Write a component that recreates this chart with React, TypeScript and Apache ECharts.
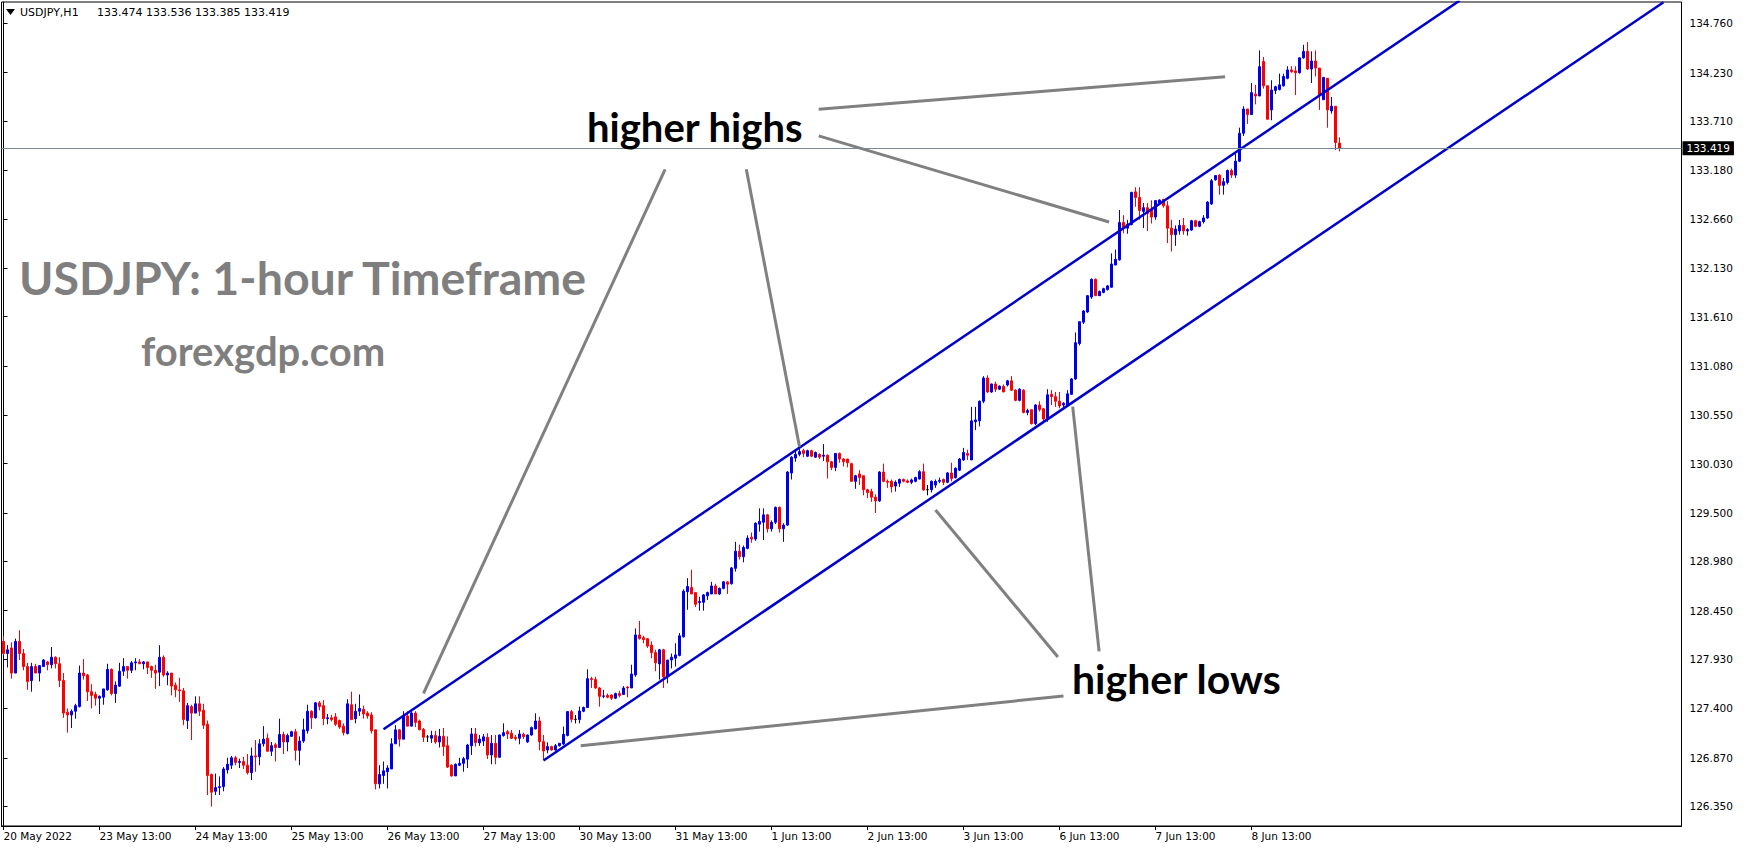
import React, { useEffect, useRef } from 'react';
import * as echarts from 'echarts';

// Hourly USDJPY candles, one array per trading day, each bar as [open, close, low, high]
const may20 = [
  [128.12, 127.99, 127.97, 128.18], [127.99, 128.03, 127.84, 128.08], [128.05, 127.78, 127.72, 128.11],
  [127.78, 128.12, 127.78, 128.15], [128.12, 127.99, 127.92, 128.24], [127.99, 127.85, 127.81, 128.04],
  [127.85, 127.69, 127.6, 127.89], [127.7, 127.85, 127.58, 127.89], [127.85, 127.78, 127.78, 127.88],
  [127.78, 127.86, 127.69, 127.86], [127.85, 127.92, 127.85, 127.93],
];
const may23 = [
  [127.9, 127.87, 127.81, 127.91], [127.87, 127.95, 127.83, 128.06], [127.95, 127.88, 127.83, 127.96],
  [127.88, 127.7, 127.63, 127.95], [127.7, 127.35, 127.3, 127.78], [127.36, 127.33, 127.14, 127.4],
  [127.33, 127.37, 127.19, 127.39], [127.37, 127.43, 127.29, 127.45], [127.42, 127.78, 127.41, 127.86],
  [127.78, 127.75, 127.71, 127.93], [127.76, 127.58, 127.48, 127.77], [127.58, 127.54, 127.4, 127.66],
  [127.55, 127.51, 127.43, 127.58], [127.51, 127.53, 127.34, 127.54], [127.52, 127.61, 127.44, 127.61],
  [127.6, 127.82, 127.59, 127.88], [127.82, 127.56, 127.54, 127.83], [127.56, 127.65, 127.46, 127.69],
  [127.64, 127.8, 127.63, 127.89], [127.8, 127.85, 127.75, 127.94], [127.85, 127.81, 127.72, 127.85],
  [127.81, 127.89, 127.78, 127.91], [127.89, 127.9, 127.81, 127.94], [127.9, 127.88, 127.88, 127.93],
];
const may24 = [
  [127.88, 127.9, 127.82, 127.91], [127.9, 127.84, 127.77, 127.9], [127.85, 127.81, 127.73, 127.86],
  [127.81, 127.78, 127.61, 127.87], [127.79, 127.95, 127.64, 128.08], [127.95, 127.76, 127.74, 127.97],
  [127.76, 127.78, 127.65, 127.8], [127.78, 127.64, 127.54, 127.78], [127.65, 127.6, 127.52, 127.68],
  [127.6, 127.59, 127.47, 127.73], [127.59, 127.28, 127.22, 127.62], [127.27, 127.43, 127.18, 127.46],
  [127.42, 127.35, 127.06, 127.44], [127.35, 127.45, 127.35, 127.53], [127.45, 127.37, 127.32, 127.53],
  [127.38, 127.22, 127.18, 127.45], [127.23, 126.68, 126.47, 127.27], [126.69, 126.5, 126.345, 126.7],
  [126.51, 126.55, 126.47, 126.7], [126.55, 126.56, 126.47, 126.67], [126.56, 126.75, 126.51, 126.77],
  [126.74, 126.8, 126.7, 126.87], [126.79, 126.87, 126.75, 126.89], [126.87, 126.82, 126.79, 126.89],
];
const may25 = [
  [126.82, 126.83, 126.76, 126.86], [126.83, 126.79, 126.75, 126.88], [126.79, 126.71, 126.69, 126.91],
  [126.71, 126.89, 126.63, 126.98], [126.89, 126.88, 126.72, 127.06], [126.88, 127.02, 126.79, 127.07],
  [127.02, 127.07, 126.99, 127.21], [127.08, 126.94, 126.94, 127.13], [126.94, 127.0, 126.89, 127.04],
  [127.01, 126.98, 126.83, 127.03], [126.98, 127.12, 126.98, 127.29], [127.12, 127.04, 126.91, 127.15],
  [127.04, 127.11, 126.94, 127.13], [127.1, 127.15, 127.1, 127.16], [127.15, 126.95, 126.84, 127.18],
  [126.95, 127.05, 126.79, 127.1], [127.05, 127.17, 127.03, 127.29], [127.16, 127.37, 127.13, 127.44],
  [127.37, 127.3, 127.18, 127.38], [127.3, 127.46, 127.29, 127.47], [127.46, 127.42, 127.38, 127.48],
  [127.43, 127.29, 127.22, 127.49], [127.29, 127.3, 127.23, 127.34], [127.3, 127.28, 127.26, 127.33],
];
const may26 = [
  [127.31, 127.23, 127.21, 127.35], [127.27, 127.2, 127.18, 127.28], [127.21, 127.14, 127.11, 127.24],
  [127.13, 127.45, 127.12, 127.5], [127.44, 127.28, 127.28, 127.58], [127.29, 127.37, 127.24, 127.45],
  [127.37, 127.4, 127.32, 127.55], [127.39, 127.34, 127.29, 127.43], [127.35, 127.32, 127.29, 127.37],
  [127.33, 127.16, 127.13, 127.36], [127.17, 126.59, 126.53, 127.17], [126.59, 126.69, 126.54, 126.79],
  [126.68, 126.73, 126.59, 126.83], [126.72, 126.76, 126.54, 126.79], [126.75, 127.02, 126.75, 127.08],
  [127.02, 127.17, 127.02, 127.22], [127.17, 127.07, 126.99, 127.18], [127.07, 127.32, 127.07, 127.37],
  [127.32, 127.21, 127.21, 127.37], [127.21, 127.35, 127.21, 127.38], [127.35, 127.25, 127.2, 127.37],
  [127.265, 127.17, 127.17, 127.28], [127.175, 127.09, 127.04, 127.19], [127.095, 127.095, 127.04, 127.115],
];
const may27 = [
  [127.08, 127.11, 127.03, 127.16], [127.11, 127.04, 127.02, 127.16], [127.04, 127.1, 126.98, 127.18],
  [127.1, 126.99, 126.89, 127.19], [127.0, 126.77, 126.76, 127.1], [126.79, 126.675, 126.667, 126.8],
  [126.675, 126.8, 126.675, 126.81], [126.79, 126.81, 126.78, 126.87], [126.81, 126.86, 126.72, 126.88],
  [126.855, 127.007, 126.76, 127.02], [127.0, 127.126, 126.9, 127.19], [127.126, 127.033, 126.99, 127.19],
  [127.03, 127.07, 126.997, 127.115], [127.05, 127.095, 126.997, 127.126], [127.09, 126.9, 126.857, 127.133],
  [126.9, 127.025, 126.8, 127.115], [127.025, 126.875, 126.8, 127.115], [126.875, 127.115, 126.875, 127.12],
  [127.108, 127.14, 127.097, 127.24], [127.15, 127.126, 127.072, 127.169], [127.133, 127.079, 127.072, 127.169],
  [127.09, 127.076, 127.054, 127.115], [127.079, 127.126, 127.015, 127.169], [127.122, 127.097, 127.072, 127.14],
];
const may30 = [
  [127.04, 127.115, 127.03, 127.12], [127.115, 127.194, 127.108, 127.205], [127.18, 127.265, 127.176, 127.348],
  [127.265, 127.043, 126.95, 127.31], [127.043, 126.943, 126.846, 127.115], [126.954, 126.99, 126.918, 127.036],
  [126.99, 126.954, 126.947, 127.0], [126.954, 127.0, 126.947, 127.018], [127.0, 127.025, 126.99, 127.03],
  [127.018, 127.122, 127.007, 127.205], [127.11, 127.366, 127.1, 127.373], [127.366, 127.283, 127.25, 127.384],
  [127.283, 127.283, 127.24, 127.33], [127.28, 127.373, 127.24, 127.42], [127.37, 127.41, 127.36, 127.42],
  [127.41, 127.72, 127.41, 127.82], [127.72, 127.71, 127.62, 127.74], [127.71, 127.62, 127.61, 127.74],
  [127.62, 127.53, 127.42, 127.63], [127.53, 127.535, 127.51, 127.6], [127.54, 127.52, 127.51, 127.56],
  [127.545, 127.51, 127.49, 127.55], [127.51, 127.56, 127.5, 127.57], [127.56, 127.54, 127.52, 127.59],
];
const may31 = [
  [127.55, 127.62, 127.55, 127.64], [127.63, 127.62, 127.52, 127.64], [127.62, 127.77, 127.62, 127.87],
  [127.76, 128.19, 127.74, 128.26], [128.19, 128.15, 128.14, 128.34], [128.16, 128.14, 128.1, 128.18],
  [128.15, 128.07, 128.05, 128.15], [128.08, 128.0, 127.94, 128.12], [128.0, 127.89, 127.8, 128.03],
  [127.88, 128.03, 127.71, 128.04], [128.03, 127.74, 127.62, 128.04], [127.74, 127.92, 127.67, 127.92],
  [127.92, 127.95, 127.83, 127.99], [127.94, 127.975, 127.85, 128.1], [127.97, 128.18, 127.96, 128.21],
  [128.17, 128.66, 128.16, 128.68], [128.655, 128.71, 128.46, 128.8], [128.7, 128.63, 128.63, 128.89],
  [128.645, 128.52, 128.49, 128.645], [128.537, 128.548, 128.45, 128.6], [128.54, 128.62, 128.45, 128.63],
  [128.61, 128.645, 128.565, 128.655], [128.63, 128.716, 128.63, 128.76], [128.716, 128.63, 128.63, 128.74],
];
const jun01 = [
  [128.63, 128.69, 128.62, 128.7], [128.69, 128.76, 128.68, 128.77], [128.76, 128.735, 128.63, 128.765],
  [128.74, 128.91, 128.73, 128.92], [128.905, 129.09, 128.87, 129.19], [129.09, 129.03, 129.0, 129.16],
  [129.03, 129.13, 128.97, 129.15], [129.12, 129.23, 129.11, 129.26], [129.24, 129.22, 129.18, 129.29],
  [129.22, 129.39, 129.2, 129.4], [129.38, 129.41, 129.3, 129.55], [129.4, 129.48, 129.21, 129.55],
  [129.48, 129.33, 129.29, 129.49], [129.33, 129.4, 129.3, 129.42], [129.4, 129.56, 129.38, 129.57],
  [129.56, 129.33, 129.29, 129.57], [129.33, 129.37, 129.19, 129.39], [129.37, 129.94, 129.36, 129.95],
  [129.93, 130.1, 129.86, 130.11], [130.09, 130.13, 130.05, 130.17], [130.13, 130.16, 130.11, 130.21],
  [130.17, 130.14, 130.1, 130.19], [130.11, 130.17, 130.1, 130.18], [130.17, 130.11, 130.1, 130.18],
];
const jun02 = [
  [130.1, 130.15, 130.09, 130.16], [130.13, 130.1, 130.08, 130.14], [130.11, 130.12, 130.06, 130.24],
  [130.12, 130.05, 129.87, 130.13], [130.05, 129.99, 129.96, 130.06], [129.99, 130.14, 129.95, 130.14],
  [130.14, 130.08, 130.04, 130.15], [130.08, 130.05, 130.0, 130.09], [130.08, 130.04, 129.99, 130.08],
  [130.03, 129.84, 129.84, 130.04], [129.84, 129.9, 129.76, 129.91], [129.92, 129.88, 129.8, 129.96],
  [129.9, 129.75, 129.69, 129.9], [129.75, 129.72, 129.66, 129.76], [129.73, 129.67, 129.62, 129.76],
  [129.67, 129.63, 129.5, 129.7], [129.63, 129.94, 129.62, 129.95], [129.94, 129.84, 129.83, 130.03],
  [129.84, 129.83, 129.77, 129.86], [129.84, 129.78, 129.72, 129.86], [129.79, 129.83, 129.73, 129.85],
  [129.82, 129.86, 129.78, 129.87], [129.86, 129.84, 129.83, 129.87], [129.845, 129.83, 129.82, 129.86],
];
const jun03 = [
  [129.83, 129.855, 129.81, 129.87], [129.84, 129.88, 129.83, 129.89], [129.865, 129.944, 129.86, 129.96],
  [129.944, 129.747, 129.74, 130.03], [129.75, 129.75, 129.69, 129.8], [129.75, 129.84, 129.72, 129.85],
  [129.8, 129.84, 129.77, 129.86], [129.84, 129.85, 129.82, 129.88], [129.86, 129.83, 129.8, 129.87],
  [129.83, 129.93, 129.82, 129.94], [129.93, 129.87, 129.84, 130.04], [129.88, 129.98, 129.87, 129.99],
  [129.96, 130.08, 129.95, 130.09], [130.07, 130.15, 130.06, 130.2], [130.14, 130.12, 130.07, 130.18],
  [130.07, 130.49, 130.07, 130.64], [130.48, 130.5, 130.39, 130.64], [130.49, 130.7, 130.43, 130.71],
  [130.7, 130.95, 130.68, 130.97], [130.95, 130.8, 130.79, 130.98], [130.8, 130.886, 130.79, 130.89],
  [130.886, 130.83, 130.8, 130.91], [130.83, 130.864, 130.82, 130.87], [130.86, 130.8, 130.8, 130.88],
];
const jun06 = [
  [130.875, 130.92, 130.86, 130.93], [130.92, 130.82, 130.81, 130.97], [130.82, 130.71, 130.7, 130.83],
  [130.71, 130.83, 130.7, 130.84], [130.82, 130.58, 130.57, 130.83], [130.58, 130.6, 130.55, 130.62],
  [130.61, 130.46, 130.45, 130.61], [130.46, 130.66, 130.445, 130.67], [130.66, 130.61, 130.59, 130.7],
  [130.62, 130.51, 130.48, 130.63], [130.51, 130.77, 130.48, 130.83], [130.775, 130.75, 130.66, 130.82],
  [130.75, 130.7, 130.64, 130.8], [130.7, 130.65, 130.625, 130.8], [130.66, 130.68, 130.63, 130.69],
  [130.65, 130.78, 130.64, 130.82], [130.775, 130.94, 130.77, 130.95], [130.94, 131.33, 130.93, 131.44],
  [131.32, 131.555, 131.3, 131.56], [131.55, 131.67, 131.53, 131.68], [131.66, 131.835, 131.65, 131.84],
  [131.82, 132.01, 131.8, 132.02], [132.01, 131.835, 131.83, 132.02], [131.835, 131.88, 131.83, 131.89],
];
const jun07 = [
  [131.87, 131.91, 131.86, 131.92], [131.9, 131.94, 131.89, 131.95], [131.925, 132.175, 131.92, 132.29],
  [132.165, 132.225, 132.16, 132.33], [132.22, 132.62, 132.21, 132.755], [132.62, 132.56, 132.505, 132.7],
  [132.56, 132.6, 132.5, 132.65], [132.6, 132.945, 132.59, 132.95], [132.95, 132.89, 132.79, 133.0],
  [132.89, 132.75, 132.65, 133.0], [132.74, 132.78, 132.56, 132.83], [132.78, 132.72, 132.53, 132.83],
  [132.76, 132.68, 132.61, 132.86], [132.68, 132.856, 132.65, 132.86], [132.83, 132.863, 132.82, 132.87],
  [132.87, 132.8, 132.78, 132.87], [132.8, 132.56, 132.4, 132.85], [132.56, 132.49, 132.31, 132.65],
  [132.49, 132.55, 132.37, 132.59], [132.53, 132.59, 132.49, 132.65], [132.59, 132.53, 132.49, 132.67],
  [132.53, 132.545, 132.48, 132.56], [132.54, 132.64, 132.53, 132.65], [132.64, 132.58, 132.57, 132.65],
];
const jun08 = [
  [132.58, 132.63, 132.57, 132.64], [132.63, 132.67, 132.61, 132.7], [132.67, 132.84, 132.66, 132.85],
  [132.82, 133.07, 132.81, 133.09], [133.08, 133.125, 133.07, 133.13], [133.13, 133.02, 132.92, 133.14],
  [133.02, 133.06, 132.92, 133.1], [133.05, 133.18, 133.03, 133.19], [133.18, 133.13, 133.1, 133.2],
  [133.13, 133.28, 133.1, 133.36], [133.28, 133.58, 133.27, 133.64], [133.58, 133.84, 133.55, 133.87],
  [133.84, 133.78, 133.68, 133.84], [133.78, 134.016, 133.78, 134.12], [134.0, 133.98, 133.89, 134.1],
  [133.98, 134.295, 133.98, 134.47], [134.35, 134.09, 134.06, 134.4], [134.09, 133.73, 133.73, 134.09],
  [133.83, 134.045, 133.72, 134.15], [134.04, 134.08, 134.0, 134.09], [134.05, 134.1, 134.04, 134.22],
  [134.09, 134.19, 134.08, 134.22], [134.17, 134.26, 134.16, 134.3], [134.26, 134.24, 134.23, 134.3],
];
const jun09 = [
  [134.25, 134.23, 133.99, 134.3], [134.23, 134.39, 134.22, 134.39], [134.39, 134.46, 134.38, 134.53],
  [134.46, 134.27, 134.26, 134.56], [134.27, 134.356, 134.12, 134.46], [134.356, 134.28, 134.19, 134.47],
  [134.28, 133.99, 133.83, 134.28], [133.94, 134.18, 133.94, 134.18], [134.17, 133.83, 133.64, 134.17],
  [133.82, 133.87, 133.79, 133.97], [133.87, 133.48, 133.4, 133.87], [133.474, 133.419, 133.385, 133.536],
];

const tradingDays = [may20, may23, may24, may25, may26, may27, may30, may31, jun01, jun02, jun03, jun06, jun07, jun08, jun09];
const bars = tradingDays.flat();

// one label every 24 bars, starting at the first bar
const xTickLabels = [
  '20 May 2022', '23 May 13:00', '24 May 13:00', '25 May 13:00', '26 May 13:00', '27 May 13:00',
  '30 May 13:00', '31 May 13:00', '1 Jun 13:00', '2 Jun 13:00', '3 Jun 13:00', '6 Jun 13:00',
  '7 Jun 13:00', '8 Jun 13:00',
];
const yTickLabels = [
  134.76, 134.23, 133.71, 133.18, 132.66, 132.13, 131.61, 131.08, 130.55,
  130.03, 129.5, 128.98, 128.45, 127.93, 127.4, 126.87, 126.35,
];
const priceMin = 126.137;
const priceMax = 134.99;
const slotCount = 420; // bar slots across the plot, including the empty space on the right

// trend channel, anchored as [bar index, price]
const channelUpper = [[95, 127.176], [364, 135.004]];
const channelLower = [[135, 126.84], [415, 134.988]];

// callout leader lines, [bar index, price] from label to swing point
const highsLeaders = [
  [[165.4, 133.193], [105.0, 127.563]],
  [[185.7, 133.193], [199.0, 130.212]],
  [[203.8, 133.839], [305.4, 134.186]],
  [[203.8, 133.552], [276.4, 132.626]],
];
const lowsLeaders = [
  [[265.0, 127.534], [144.3, 127.0]],
  [[263.6, 127.953], [233.0, 129.532]],
  [[273.9, 128.013], [267.3, 130.642]],
];

const BULL = '#0000E6';
const BEAR = '#FF0000';
const CHANNEL = '#0000CD';
const LEADER = '#808080';
const TICK_FONT = 'DejaVu Sans';

export default function App() {
  const ref = useRef<HTMLDivElement>(null);

  useEffect(() => {
    document.body.style.margin = '0';
    document.body.style.background = '#fff';
    if (!ref.current) return;
    const chart = echarts.init(ref.current, null, { renderer: 'svg' });

    const last = bars[bars.length - 1];
    const headerValues = [last[0], last[3], last[2], last[1]].map((v) => v.toFixed(3)).join(' ');
    const lastClose = last[1];
    const slots = Array.from({ length: slotCount }, (_, i) => String(i));
    const showTick = (index: number) => index % 24 === 0 && index < bars.length;

    const lineSeries = (pts: number[][], color: string, width: number) => ({
      type: 'line',
      xAxisIndex: 1,
      yAxisIndex: 0,
      data: pts,
      symbol: 'none',
      silent: true,
      z: 4,
      clip: true,
      lineStyle: { color, width, type: 'solid' },
    });

    chart.setOption({
      animation: false,
      backgroundColor: '#ffffff',
      grid: {
        left: 1.5,
        top: 2,
        width: 1680,
        height: 824,
        show: true,
        borderColor: '#000',
        borderWidth: 1,
      },
      xAxis: [
        {
          type: 'category',
          data: slots,
          boundaryGap: true,
          axisLine: { show: true, lineStyle: { color: '#000', width: 1 } },
          axisTick: {
            show: true,
            length: 4,
            alignWithLabel: true,
            interval: (index: number) => showTick(index),
            lineStyle: { color: '#000' },
          },
          axisLabel: {
            show: true,
            interval: (index: number) => showTick(index),
            formatter: (_v: string, index: number) => xTickLabels[index / 24] ?? '',
            align: 'left',
            margin: 4,
            color: '#000',
            fontFamily: TICK_FONT,
            fontSize: 10.5,
          },
          splitLine: { show: false },
        },
        { type: 'value', min: -0.5, max: slotCount - 0.5, show: false },
      ],
      yAxis: {
        type: 'value',
        position: 'right',
        min: priceMin,
        max: priceMax,
        axisLine: { show: true, lineStyle: { color: '#000', width: 1 } },
        axisTick: { show: true, length: 4, customValues: yTickLabels, lineStyle: { color: '#000' } },
        axisLabel: {
          customValues: yTickLabels,
          formatter: (v: number) => v.toFixed(3),
          margin: 8,
          color: '#000',
          fontFamily: TICK_FONT,
          fontSize: 10.5,
        },
        splitLine: { show: false },
      },
      series: [
        {
          type: 'candlestick',
          xAxisIndex: 0,
          yAxisIndex: 0,
          data: bars,
          barWidth: 2,
          z: 2,
          itemStyle: {
            color: BULL,
            color0: BEAR,
            borderColor: BULL,
            borderColor0: BEAR,
            borderColorDoji: '#000',
            borderWidth: 1,
          },
          markLine: {
            silent: true,
            symbol: ['none', 'none'],
            animation: false,
            data: [{ yAxis: lastClose }],
            lineStyle: { color: '#778899', width: 1, type: 'solid' },
            label: {
              show: true,
              position: 'end',
              distance: 1,
              formatter: lastClose.toFixed(3),
              color: '#fff',
              backgroundColor: '#000',
              fontFamily: TICK_FONT,
              fontSize: 10.5,
              padding: [2, 4, 1, 4],
            },
          },
        },
        lineSeries(channelUpper, CHANNEL, 2.5),
        lineSeries(channelLower, CHANNEL, 2.5),
        ...highsLeaders.map((pts) => lineSeries(pts, LEADER, 3)),
        ...lowsLeaders.map((pts) => lineSeries(pts, LEADER, 3)),
      ],
      graphic: [
        { type: 'polygon', shape: { points: [[6, 9], [15, 9], [10.5, 15]] }, style: { fill: '#000' } },
        {
          type: 'text', x: 20, y: 12.5,
          style: { text: 'USDJPY,H1', fontFamily: TICK_FONT, fontSize: 11, fill: '#000', verticalAlign: 'middle' },
        },
        {
          type: 'text', x: 97, y: 12.5,
          style: { text: headerValues, fontFamily: TICK_FONT, fontSize: 11, fill: '#000', verticalAlign: 'middle' },
        },
        {
          type: 'text', x: 587, y: 127, z: 10,
          style: { text: 'higher highs', fontFamily: 'Lato', fontWeight: 'bold', fontSize: 40, fill: '#000', verticalAlign: 'middle' },
        },
        {
          type: 'text', x: 1072, y: 678, z: 10,
          style: { text: 'higher lows', fontFamily: 'Lato', fontWeight: 'bold', fontSize: 41, fill: '#000', verticalAlign: 'middle' },
        },
        {
          type: 'text', x: 19, y: 277, z: 10,
          style: { text: 'USDJPY: 1-hour Timeframe', fontFamily: 'Lato', fontWeight: 'bold', fontSize: 46.5, fill: '#7f7f7f', verticalAlign: 'middle' },
        },
        {
          type: 'text', x: 141, y: 351, z: 10,
          style: { text: 'forexgdp.com', fontFamily: 'Lato', fontWeight: 'bold', fontSize: 40, fill: '#7f7f7f', verticalAlign: 'middle' },
        },
      ],
    });

    return () => chart.dispose();
  }, []);

  return <div ref={ref} style={{ width: 1746, height: 850 }} />;
}
